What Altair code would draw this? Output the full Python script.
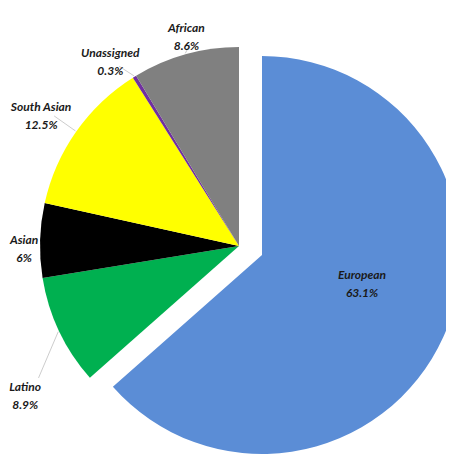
import altair as alt
import pandas as pd

groups = ["European", "Latino", "Asian", "South Asian", "Unassigned", "African"]
shares = [63.1, 8.9, 6.0, 12.5, 0.3, 8.6]
share_labels = ["63.1%", "8.9%", "6%", "12.5%", "0.3%", "8.6%"]
colors = ["#5B8DD6", "#00B050", "#000000", "#FFFF00", "#7030A0", "#808080"]

df = pd.DataFrame({"group": groups, "share": shares, "pct": share_labels,
                   "order": list(range(len(groups)))})

CX, CY = 231, 238          # pie centre (chart pixels)
EX, EY = 254, 247          # exploded European slice centre
R = 199

# label placement (layout only): radius and angular nudge in degrees
label_r = {"European": 102, "Latino": 256, "Asian": 215, "South Asian": 242,
           "Unassigned": 232, "African": 224}
label_da = {"European": -13, "Latino": -8, "Asian": 0, "South Asian": 0,
            "Unassigned": -2, "African": 2}
leader = ["Latino", "South Asian", "Unassigned", "African"]

lr_js = "{" + ",".join(f"'{k}':{v}" for k, v in label_r.items()) + "}"
da_js = "{" + ",".join(f"'{k}':{v}" for k, v in label_da.items()) + "}"

base = (
    alt.Chart(df)
    .transform_window(cum="sum(share)", sort=[alt.SortField("order")], frame=[None, 0])
    .transform_joinaggregate(total="sum(share)")
    .transform_calculate(
        t0="(datum.cum - datum.share) / datum.total * 2 * PI",
        t1="datum.cum / datum.total * 2 * PI",
    )
    .transform_calculate(
        tm="(datum.t0 + datum.t1) / 2",
        label="[datum.group, datum.pct]",
        lr=f"{lr_js}[datum.group]",
        da=f"{da_js}[datum.group] * PI / 180",
    )
    .transform_calculate(tl="datum.tm + datum.da")
)

color = alt.Color("group:N", scale=alt.Scale(domain=groups, range=colors), legend=None)

rest = base.transform_filter("datum.group != 'European'").mark_arc(radius=R).encode(
    theta=alt.Theta("t0:Q", scale=None), theta2="t1:Q", color=color,
    x=alt.value(CX), y=alt.value(CY))

euro = base.transform_filter("datum.group == 'European'").mark_arc(radius=R).encode(
    theta=alt.Theta("t0:Q", scale=None), theta2="t1:Q", color=color,
    x=alt.value(EX), y=alt.value(EY))

leader_filter = alt.FieldOneOfPredicate(field="group", oneOf=leader)
lines = (
    base.transform_filter(leader_filter)
    .transform_calculate(
        lx1=f"{CX} + {R + 1} * sin(datum.tm)",
        ly1=f"{CY} - {R + 1} * cos(datum.tm)",
        lx2=f"{CX} + (datum.lr - 16) * sin(datum.tl)",
        ly2=f"{CY} - (datum.lr - 16) * cos(datum.tl)",
    )
    .mark_rule(color="#bfbfbf", strokeWidth=0.8)
    .encode(x=alt.X("lx1:Q", scale=None), y=alt.Y("ly1:Q", scale=None),
            x2="lx2:Q", y2="ly2:Q")
)

font = dict(font="Lato", fontSize=12, fontStyle="italic", fontWeight="bold",
            color="#1a1a1a", lineHeight=18, align="center", baseline="middle")

outer_labels = base.transform_filter("datum.group != 'European'").mark_text(**font).encode(
    theta=alt.Theta("tl:Q", scale=None), radius=alt.Radius("lr:Q", scale=None),
    x=alt.value(CX), y=alt.value(CY), text="label:N")

euro_label = base.transform_filter("datum.group == 'European'").mark_text(**font).encode(
    theta=alt.Theta("tl:Q", scale=None), radius=alt.Radius("lr:Q", scale=None),
    x=alt.value(EX), y=alt.value(EY), text="label:N")

chart = alt.layer(rest, euro, lines, outer_labels, euro_label).properties(
    width=438, height=459, autosize="none", padding=0
).configure_view(stroke=None)

chart.save("out.html", embed_options={"renderer": "svg", "actions": False})
